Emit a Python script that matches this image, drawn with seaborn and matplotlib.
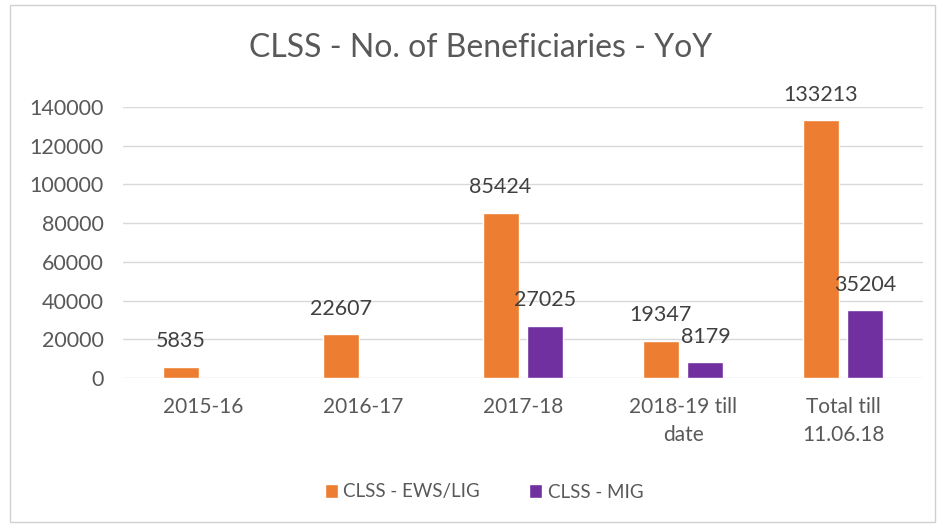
import matplotlib
matplotlib.use("Agg")
import matplotlib.pyplot as plt
import seaborn as sns
import pandas as pd
import numpy as np
from matplotlib.patches import Rectangle

categories = ["2015-16", "2016-17", "2017-18", "2018-19 till\ndate", "Total till\n11.06.18"]
ews_lig = [5835, 22607, 85424, 19347, 133213]
mig = [np.nan, np.nan, 27025, 8179, 35204]
series_names = ["CLSS - EWS/LIG", "CLSS - MIG"]
yticks = [0, 20000, 40000, 60000, 80000, 100000, 120000, 140000]
title = "CLSS - No. of Beneficiaries - YoY"

colors = ["#ED7D31", "#7030A0"]
text_color = "#595959"

df = pd.DataFrame({
    "Year": categories * 2,
    "Series": [series_names[0]] * len(categories) + [series_names[1]] * len(categories),
    "Value": ews_lig + mig,
})

sns.set_theme(style="white")
plt.rcParams['font.family'] = ['Lato', 'DejaVu Sans']

fig = plt.figure(figsize=(9.38, 5.25), dpi=100)
ax = fig.add_axes([123 / 938, 1 - 378 / 525, 800 / 938, (378 - 107) / 525])

sns.barplot(data=df, x="Year", y="Value", hue="Series", order=categories,
            hue_order=series_names, palette=colors, width=0.56, gap=0.2,
            saturation=1, ax=ax, errorbar=None)

ax.set_ylim(0, 140000)
ax.set_xlim(-0.5, len(categories) - 0.5)
ax.set_yticks(yticks)
ax.set_yticklabels([str(t) for t in yticks])
ax.yaxis.grid(True, color="#D9D9D9", lw=1)
ax.set_axisbelow(True)
for sp in ax.spines.values():
    sp.set_visible(False)
ax.set_xlabel("")
ax.set_ylabel("")
ax.tick_params(axis="y", length=0, pad=14, labelsize=15.5, labelcolor=text_color)
ax.tick_params(axis="x", length=0, pad=14, labelsize=15, labelcolor=text_color)
for lbl in ax.get_xticklabels():
    lbl.set_linespacing(1.5)

for container in ax.containers:
    labels = [f"{v:.0f}" if np.isfinite(v) and v > 0 else "" for v in container.datavalues]
    ax.bar_label(container, labels=labels, padding=11, fontsize=15.5, color="#404040")

handles, labels = ax.get_legend_handles_labels()
ax.get_legend().remove()
fig.legend(handles, labels, loc="center", bbox_to_anchor=(484 / 938, 1 - 492 / 525),
           ncol=2, frameon=False, fontsize=13.5, handlelength=0.7, handleheight=0.7,
           handletextpad=0.3, columnspacing=2.6, labelcolor=text_color)

fig.text(481 / 938, 1 - 48 / 525, title, ha="center", va="center", fontsize=23,
         color=text_color)

fig.patches.append(Rectangle((10 / 938, 3 / 525), 925 / 938, 517 / 525,
                             transform=fig.transFigure, fill=False,
                             edgecolor="#D0D0D0", lw=1))

fig.savefig("out.png", dpi=100)
